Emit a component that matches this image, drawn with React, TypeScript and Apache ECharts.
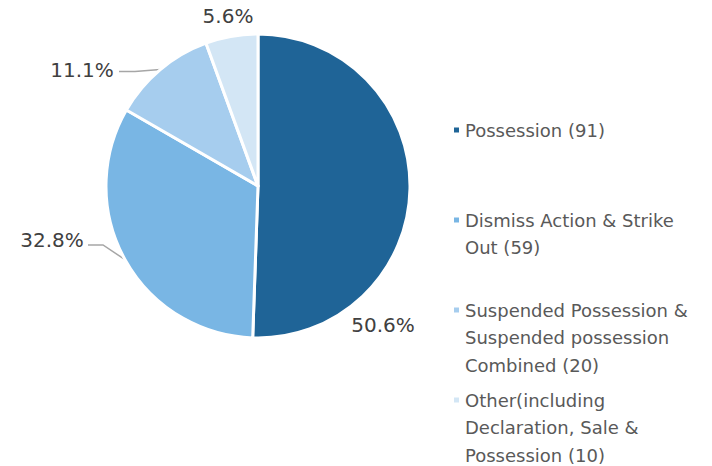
import React, { useEffect, useRef } from "react";
import * as echarts from "echarts";

const categories = [
  "Possession (91)",
  "Dismiss Action & Strike Out (59)",
  "Suspended Possession & Suspended possession Combined (20)",
  "Other(including Declaration, Sale & Possession (10)",
];
const legendLines = [
  ["Possession (91)"],
  ["Dismiss Action & Strike", "Out (59)"],
  ["Suspended Possession &", "Suspended possession", "Combined (20)"],
  ["Other(including", "Declaration, Sale &", "Possession (10)"],
];
const values = [91, 59, 20, 10];
const colors = ["#1F6497", "#79B6E4", "#A6CDEE", "#D3E6F5"];

const LH = 27.5;
const legendFirstLine = [130, 220, 310, 400];
const labelPos = [
  { x: 383, y: 325, line: false, ly: 0, lx: 0, hx: 0 },
  { x: 52, y: 240, line: true, ly: 245, lx: 88, hx: 103 },
  { x: 82, y: 70, line: true, ly: 71.5, lx: 119, hx: 135 },
  { x: 228, y: 16, line: false, ly: 0, lx: 0, hx: 0 },
];

export default function App() {
  const ref = useRef<HTMLDivElement>(null);
  useEffect(() => {
    document.body.style.margin = "0";
    const chart = echarts.init(ref.current!, undefined, { renderer: "svg" });
    const total = values.reduce((a, b) => a + b, 0);
    const font = "'DejaVu Sans', sans-serif";
    const legends = categories.map((name, i) => {
      const n = legendLines[i].length;
      const pad: string[] = [];
      for (let k = 1; k < n; k++) pad.push("");
      return {
        data: [name],
        orient: "vertical",
        left: 452,
        top: legendFirstLine[i] - (n - 1) * LH - LH / 2,
        padding: 0,
        icon: "rect",
        itemWidth: 7,
        itemHeight: 7,
        selectedMode: false,
        formatter: () => pad.concat(legendLines[i]).join("\n"),
        textStyle: {
          fontFamily: font,
          fontSize: 18,
          color: "#595959",
          lineHeight: LH,
        },
      };
    });
    chart.setOption({
      animation: false,
      color: colors,
      legend: legends,
      series: [
        {
          type: "pie",
          center: [258, 186],
          radius: 152,
          startAngle: 90,
          clockwise: true,
          data: categories.map((name, i) => ({ name, value: values[i] })),
          itemStyle: { borderColor: "#ffffff", borderWidth: 3 },
          label: {
            show: true,
            position: "outside",
            formatter: (p: any) => ((p.value / total) * 100).toFixed(1) + "%",
            fontFamily: font,
            fontSize: 20,
            lineHeight: 22,
            color: "#404040",
          },
          labelLine: {
            show: true,
            length: 10,
            length2: 10,
            smooth: false,
            lineStyle: { color: "#A6A6A6", width: 1.5 },
          },
          labelLayout: (params: any) => {
            const lp = labelPos[params.dataIndex];
            const res: any = {
              x: lp.x,
              y: lp.y,
              align: "center",
              verticalAlign: "middle",
            };
            const pts = params.labelLinePoints;
            if (lp.line && pts) {
              res.labelLinePoints = [pts[0], [lp.hx, lp.ly], [lp.lx, lp.ly]];
            } else {
              res.labelLinePoints = [
                [lp.x, lp.y],
                [lp.x, lp.y],
                [lp.x, lp.y],
              ];
            }
            return res;
          },
        },
      ],
    });
    return () => chart.dispose();
  }, []);
  return <div ref={ref} style={{ width: 712, height: 466 }} />;
}
